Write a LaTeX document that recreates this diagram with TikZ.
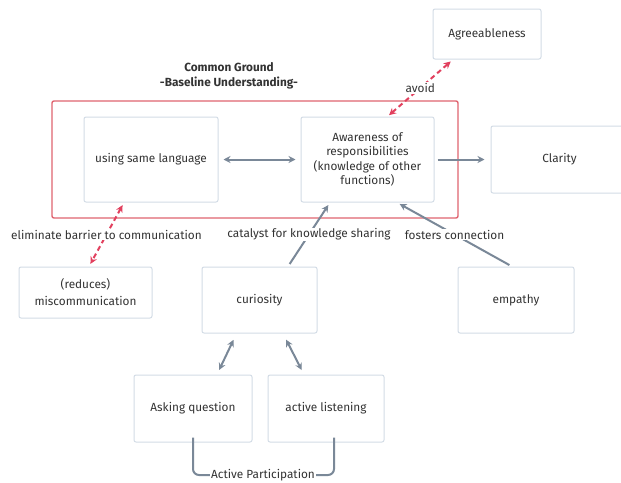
\documentclass[tikz,border=0pt]{standalone}
\usepackage{fontspec}
\setmainfont{Fira Sans}
\usetikzlibrary{arrows.meta}
\definecolor{boxline}{HTML}{D3DCE6}
\definecolor{arrowgray}{HTML}{7A8898}
\definecolor{framered}{HTML}{E06470}
\definecolor{dashred}{HTML}{E2405E}
\definecolor{txt}{HTML}{333333}
\tikzset{
  card/.style={draw=boxline, line width=1pt, rounded corners=2pt, fill=white, align=center, text=txt, inner sep=1pt, font=\fontsize{11.8}{14.5}\selectfont},
  conn/.style={draw=arrowgray, line width=2pt, -{Stealth[length=7pt,width=7pt]}},
  bconn/.style={conn, {Stealth[length=7pt,width=7pt]}-{Stealth[length=7pt,width=7pt]}},
  redconn/.style={draw=dashred, line width=2pt, dash pattern=on 5pt off 3.5pt, {Stealth[length=7pt,width=7pt]}-{Stealth[length=7pt,width=7pt]}},
  lbl/.style={fill=white, inner sep=1pt, text=txt, font=\fontsize{11.8}{14}\selectfont},
}
\begin{document}
\begin{tikzpicture}[x=1pt,y=-1pt]
\useasboundingbox[fill=white] (0,0) rectangle (621,482);
% frame
\draw[draw=framered, line width=1.4pt, rounded corners=2pt] (52,101) rectangle (458,218);
\node[text=txt, font=\fontsize{11.8}{14.5}\selectfont\bfseries, align=center] (title) at (229,76) {Common Ground\\-Baseline Understanding-};
% nodes
\node[card, minimum width=108pt, minimum height=50pt] (agree) at (487,34) {Agreeableness};
\node[card, minimum width=134pt, minimum height=85pt] (using) at (151,159.5) {using same language};
\node[card, minimum width=133pt, minimum height=85pt] (aware) at (367.5,159.5) {Awareness of\\responsibilities\\(knowledge of other\\functions)};
\node[card, minimum width=137pt, minimum height=67pt] (clarity) at (559.5,159.5) {Clarity};
\node[card, minimum width=133pt, minimum height=51pt, font=\fontsize{11.8}{17}\selectfont] (misc) at (85.5,292.5) {(reduces)\\miscommunication};
\node[card, minimum width=115pt, minimum height=66pt] (curio) at (259.5,300) {curiosity};
\node[card, minimum width=116pt, minimum height=66pt] (emp) at (516,300) {empathy};
\node[card, minimum width=118pt, minimum height=67pt] (ask) at (193,408.5) {Asking question};
\node[card, minimum width=116pt, minimum height=67pt] (listen) at (326,408.5) {active listening};
% connectors
\draw[bconn, shorten <=5pt, shorten >=5pt] (using) -- (aware);
\draw[conn, shorten <=3pt, shorten >=6pt] (aware) -- (clarity);
\draw[redconn, shorten <=2pt, shorten >=3pt] ([xshift=20pt]aware.north) -- node[lbl] (avoid) {avoid} ([xshift=-34pt]agree.south);
\draw[redconn, shorten <=3pt, shorten >=3pt] ([xshift=-27pt]using.south) -- node[lbl] (elim) {eliminate barrier to communication} ([xshift=3.5pt]misc.north);
\draw[conn, shorten <=3pt, shorten >=3pt] ([xshift=28.5pt]curio.north) -- node[lbl] (cat) {catalyst for knowledge sharing} ([xshift=-37.5pt]aware.south);
\draw[conn, shorten <=3pt, shorten >=3pt] ([xshift=-4pt]emp.north) -- node[lbl] (fost) {fosters connection} ([xshift=29.5pt]aware.south);
\draw[bconn, shorten <=7pt, shorten >=5pt] ([xshift=-23pt]curio.south) -- ([xshift=24pt]ask.north);
\draw[bconn, shorten <=7pt, shorten >=5pt] ([xshift=23.5pt]curio.south) -- ([xshift=-22pt]listen.north);
% bracket
\node[lbl] (part) at (263,475) {Active Participation};
\draw[draw=arrowgray, line width=2pt, rounded corners=6pt] ([yshift=5pt]ask.south) |- (part.west);
\draw[draw=arrowgray, line width=2pt, rounded corners=6pt] ([xshift=8pt,yshift=5pt]listen.south) |- (part.east);
\end{tikzpicture}
\end{document}
